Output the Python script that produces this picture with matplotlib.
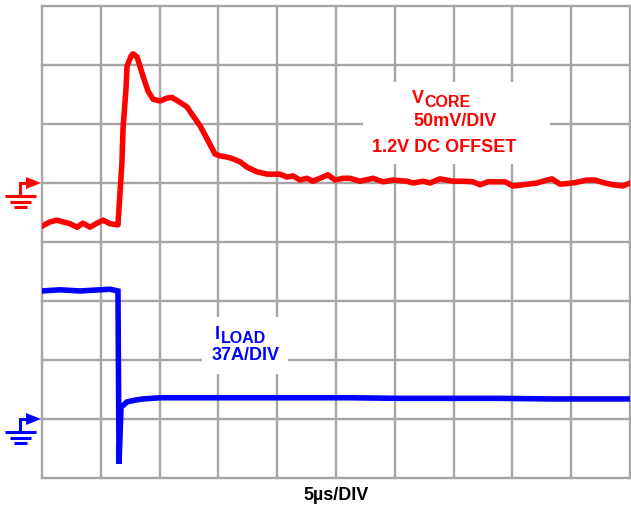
import matplotlib
matplotlib.use("Agg")
import matplotlib.pyplot as plt
from matplotlib.patches import Rectangle, Polygon

plt.rcParams["font.family"] = ["Liberation Sans", "DejaVu Sans"]

# Time axis in microseconds (5us/DIV, 10 divisions)
t_core = [0.0, 0.68, 1.28, 1.79, 2.38, 2.98, 3.49, 4.08, 4.68, 5.19, 5.78, 6.46,
          6.80, 6.89, 7.14, 7.23, 7.57, 7.74, 8.08, 8.33, 8.59, 9.01, 9.44, 10.03,
          10.63, 11.05, 11.56, 12.33, 12.84, 13.44, 14.03, 14.71, 15.14, 15.73,
          16.24, 16.84, 17.43, 18.28, 19.13, 20.24, 20.83, 21.34, 21.94, 22.53,
          23.04, 23.64, 24.32, 24.91, 25.59, 26.19, 27.04, 28.15, 29.00, 29.85,
          31.04, 31.55, 32.40, 32.99, 33.84, 34.95, 35.80, 36.65, 37.24, 37.92,
          38.69, 39.37, 40.05, 40.90, 42.09, 42.94, 43.37, 44.05, 45.15, 46.34,
          47.02, 47.87, 48.55, 49.40, 50.0]
# VCORE trace in screen divisions (ground marker at 5 div)
v_core = [4.27, 4.34, 4.37, 4.34, 4.31, 4.25, 4.32, 4.25, 4.32, 4.37, 4.31, 4.29,
          5.36, 5.92, 6.59, 6.98, 7.15, 7.19, 7.14, 6.98, 6.81, 6.56, 6.42, 6.39,
          6.44, 6.45, 6.39, 6.29, 6.14, 5.97, 5.75, 5.49, 5.46, 5.44,
          5.41, 5.36, 5.27, 5.19, 5.15, 5.15, 5.10, 5.12, 5.05, 5.08,
          5.03, 5.08, 5.14, 5.05, 5.08, 5.08, 5.03, 5.08, 5.02, 5.05,
          5.03, 5.00, 5.03, 5.00, 5.07, 5.03, 5.03, 5.02, 4.97, 5.02,
          5.02, 5.02, 4.95, 4.97, 5.00, 5.05, 5.07, 4.98, 5.00, 5.05,
          5.05, 5.00, 4.97, 4.95, 5.00]

t_load = [0.0, 1.53, 3.23, 4.93, 5.78, 6.46, 6.55, 6.72, 7.23, 7.91, 8.59, 10.03,
          13.44, 17.69, 21.94, 26.19, 30.44, 34.69, 38.94, 43.20, 47.45, 50.0]
# ILOAD trace in screen divisions (ground marker at 1 div)
i_load = [3.17, 3.19, 3.17, 3.19, 3.20, 3.17, 0.24, 1.20, 1.29, 1.32, 1.34, 1.36,
          1.36, 1.36, 1.36, 1.36, 1.35, 1.35, 1.35, 1.34, 1.34, 1.34]

red = "#ff0000"
blue = "#0000ff"
grid_col = "#a6a6a6"

fig = plt.figure(figsize=(6.31, 5.06), dpi=100)
ax = fig.add_axes([42 / 631, 27 / 506, 588 / 631, 472 / 506])
ax.set_xlim(0, 50)
ax.set_ylim(0, 8)
ax.axis("off")

for gx in range(0, 51, 5):
    ax.axvline(gx, color=grid_col, lw=1.7, zorder=1, clip_on=False)
for gy in range(0, 9):
    ax.axhline(gy, color=grid_col, lw=1.7, zorder=1, clip_on=False)

# pixel sizes in data units
px = 5.0 / 58.8
py = 1.0 / 59

# white boxes behind labels
ax.add_patch(Rectangle((27.3, 5.32), 15.9, 1.39, facecolor="white", edgecolor="none", zorder=2))
ax.add_patch(Rectangle((13.6, 1.76), 7.3, 0.97, facecolor="white", edgecolor="none", zorder=2))

ax.plot(t_core, v_core, color=red, lw=4.0, zorder=3, solid_joinstyle="round")
ax.plot(t_load, i_load, color=blue, lw=4.0, zorder=3, solid_joinstyle="miter")

fs = 13
bold = dict(fontweight="bold", va="baseline", zorder=4)
ax.text(32.45, 6.38, "V", color=red, fontsize=fs, ha="right", **bold)
ax.text(32.5, 6.30, "CORE", color=red, fontsize=11.5, ha="left", **bold)
ax.text(35.1, 5.98, "50mV/DIV", color=red, fontsize=fs, ha="center", **bold)
ax.text(34.2, 5.55, "1.2V DC OFFSET", color=red, fontsize=fs, ha="center", **bold)

ax.text(15.15, 2.37, "I", color=blue, fontsize=fs, ha="right", **bold)
ax.text(15.2, 2.31, "LOAD", color=blue, fontsize=11.5, ha="left", **bold)
ax.text(17.3, 2.02, "37A/DIV", color=blue, fontsize=fs, ha="center", **bold)

ax.text(25.0, -0.28, "5\u00b5s/DIV", color="black", fontsize=fs, fontweight="bold", ha="center", va="center")


def ground_marker(level, color):
    x0 = -37 * px
    xs = -22 * px
    xa = -16 * px
    xt = -1 * px
    ax.plot([xs, xs, xa], [level - 13 * py, level, level], color=color, lw=2.2,
            clip_on=False, solid_joinstyle="miter", solid_capstyle="butt")
    ax.add_patch(Polygon([[xa, level + 6 * py], [xa, level - 6 * py], [xt, level]],
                         closed=True, facecolor=color, edgecolor="none", clip_on=False))
    for dy, x_l, x_r in [(13, x0, -6 * px), (19, -32 * px, -11 * px), (24, -28 * px, -15 * px)]:
        ax.plot([x_l, x_r], [level - dy * py, level - dy * py], color=color, lw=2.2,
                clip_on=False, solid_capstyle="butt")


ground_marker(5, red)
ground_marker(1, blue)

fig.savefig("out.png", dpi=100)
